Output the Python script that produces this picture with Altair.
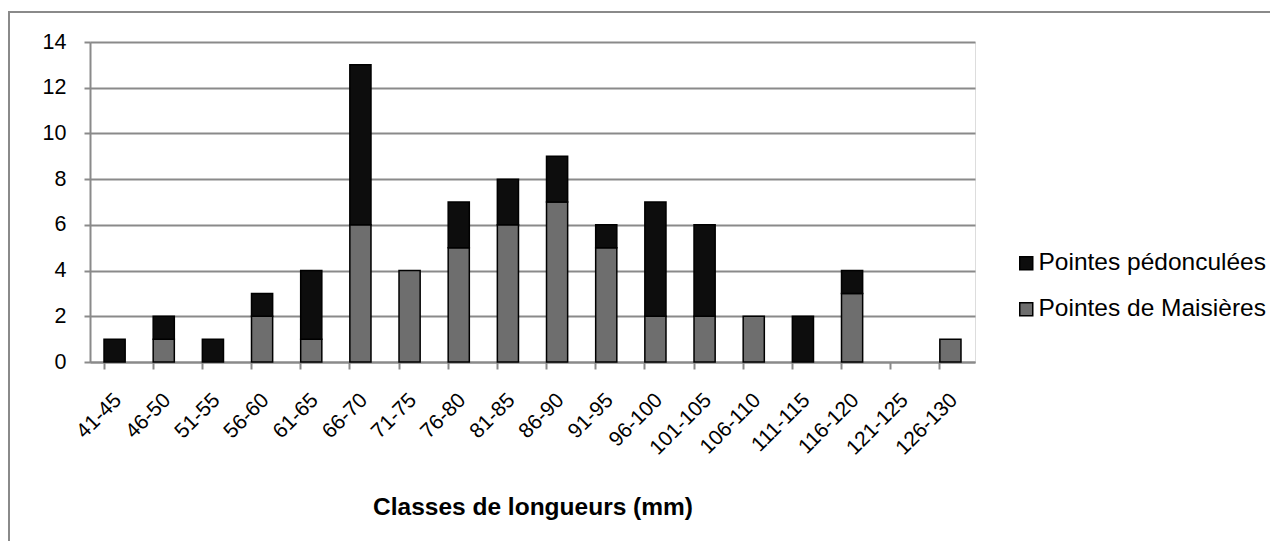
import altair as alt
import pandas as pd

classes = ["41-45", "46-50", "51-55", "56-60", "61-65", "66-70", "71-75", "76-80", "81-85",
           "86-90", "91-95", "96-100", "101-105", "106-110", "111-115", "116-120", "121-125", "126-130"]
maisieres = [0, 1, 0, 2, 1, 6, 4, 5, 6, 7, 5, 2, 2, 2, 0, 3, 0, 1]
pedonculees = [1, 1, 1, 1, 3, 7, 0, 2, 2, 2, 1, 5, 4, 0, 2, 1, 0, 0]

S_PED = "Pointes pédonculées"
S_MAI = "Pointes de Maisières"

rows = []
for c, m, p in zip(classes, maisieres, pedonculees):
    rows.append({"classe": c, "serie": S_MAI, "n": m, "ord": 0})
    rows.append({"classe": c, "serie": S_PED, "n": p, "ord": 1})
df = pd.DataFrame(rows)

FONT = "Liberation Sans"
GRID = "#8a8a8a"

bars = alt.Chart(df).transform_filter("datum.n > 0").mark_bar(
    stroke="#000000", strokeWidth=1.5
).encode(
    x=alt.X("classe:N", sort=classes,
            scale=alt.Scale(domain=classes, paddingInner=0.57, paddingOuter=0.285),
            axis=alt.Axis(title="Classes de longueurs (mm)", labelAngle=-45,
                          bandPosition=0, tickSize=7, tickWidth=2, tickColor=GRID,
                          domainColor=GRID, domainWidth=2, labelFontSize=21,
                          labelFont=FONT, labelColor="#000000", labelPadding=20,
                          labelOffset=-4,
                          titleFont=FONT, titleFontSize=24.5, titleFontWeight="bold",
                          titleColor="#000000", titleY=133, titleBaseline="top")),
    y=alt.Y("n:Q", stack="zero",
            scale=alt.Scale(domain=[0, 14], nice=False),
            axis=alt.Axis(title=None, values=list(range(0, 15, 2)), tickSize=6,
                          tickWidth=2, tickColor=GRID, domainColor=GRID, domainWidth=2,
                          gridColor=GRID, gridWidth=2, labelFontSize=21.5, labelFont=FONT,
                          labelColor="#000000", labelPadding=18)),
    color=alt.Color("serie:N",
                    scale=alt.Scale(domain=[S_PED, S_MAI], range=["#0d0d0d", "#6e6e6e"]),
                    legend=alt.Legend(title=None, orient="none", legendX=924, legendY=209,
                                      symbolType="square", symbolSize=169,
                                      symbolStrokeColor="#000000", symbolStrokeWidth=1.5,
                                      labelFont=FONT, labelFontSize=24.5, labelColor="#000000",
                                      labelLimit=0, rowPadding=21, labelOffset=0)),
    order=alt.Order("ord:Q"),
)

frame = alt.Chart(pd.DataFrame({"a": [0]})).mark_rect(
    fill=None, stroke=GRID, strokeWidth=2
).encode(
    x=alt.value(-81), x2=alt.value(1300), y=alt.value(-30), y2=alt.value(700)
)

chart = alt.layer(frame, bars).properties(
    width=885, height=320,
    autosize=alt.AutoSizeParams(type="none"),
    padding={"left": 82, "top": 34, "right": 295, "bottom": 179},
).configure_view(stroke=None).configure(background="#ffffff")

chart.save("out.html", embed_options={"renderer": "svg", "actions": False})
